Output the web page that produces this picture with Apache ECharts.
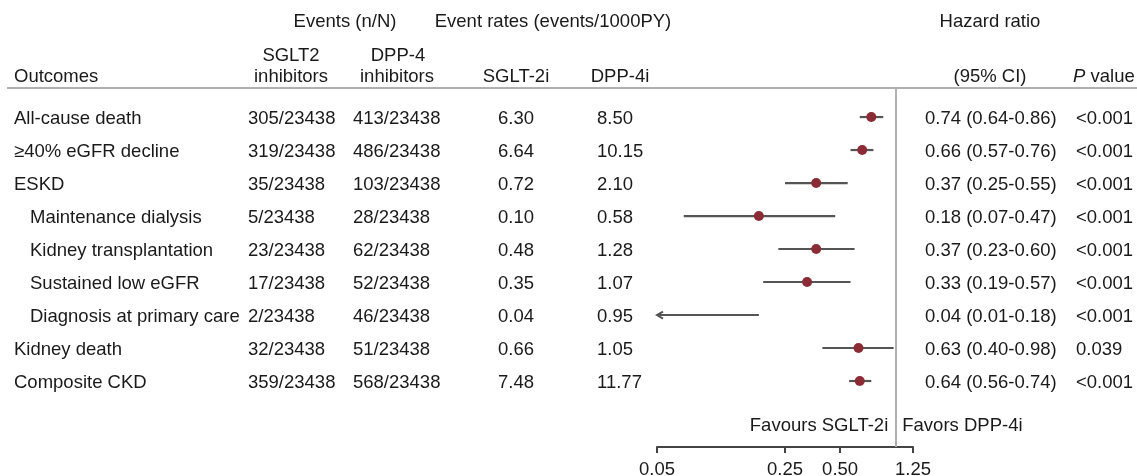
<!DOCTYPE html>
<html>
<head>
<meta charset="utf-8">
<script src="https://cdn.jsdelivr.net/npm/echarts@6/dist/echarts.min.js"></script>
<style>
html,body{margin:0;padding:0;background:#fff;}
#chart{width:1137px;height:476px;}
</style>
</head>
<body>
<div id="chart"></div>
<script>
// ---- data ----
var outcomes = ['All-cause death', '\u226540% eGFR decline', 'ESKD', 'Maintenance dialysis', 'Kidney transplantation', 'Sustained low eGFR', 'Diagnosis at primary care', 'Kidney death', 'Composite CKD'];
var indented = [false, false, false, true, true, true, true, false, false];
var eventsSglt2 = ['305/23438', '319/23438', '35/23438', '5/23438', '23/23438', '17/23438', '2/23438', '32/23438', '359/23438'];
var eventsDpp4 = ['413/23438', '486/23438', '103/23438', '28/23438', '62/23438', '52/23438', '46/23438', '51/23438', '568/23438'];
var rateSglt2 = ['6.30', '6.64', '0.72', '0.10', '0.48', '0.35', '0.04', '0.66', '7.48'];
var rateDpp4 = ['8.50', '10.15', '2.10', '0.58', '1.28', '1.07', '0.95', '1.05', '11.77'];
var hr = [0.74, 0.66, 0.37, 0.18, 0.37, 0.33, 0.04, 0.63, 0.64];
var hrLow = [0.64, 0.57, 0.25, 0.07, 0.23, 0.19, 0.01, 0.40, 0.56];
var hrHigh = [0.86, 0.76, 0.55, 0.47, 0.60, 0.57, 0.18, 0.98, 0.74];
var pValues = ['<0.001', '<0.001', '<0.001', '<0.001', '<0.001', '<0.001', '<0.001', '0.039', '<0.001'];
var xTicks = [0.05, 0.25, 0.50, 1.25];

// ---- style ----
var FONT = '"Liberation Sans", Arial, sans-serif';
var FS = 18.5;
var TXT = '#1a1a1a';
var DOT = '#8b2b36';
var LINE = '#555555';
var GRID_LINE = '#b0b0b0';
var COL = {outcome: 14, indent: 30, ev1: 248, ev2: 353, r1: 498, r2: 597, hr: 925, p: 1076};
var TEXT_DY = 2;

function fmt2(v) { return v.toFixed(2); }

var xMin = Math.log(xTicks[0]);
var xMax = Math.log(xTicks[xTicks.length - 1]);

var chart = echarts.init(document.getElementById('chart'), null, {renderer: 'canvas'});

function txt(x, y, s, align) {
  return {type: 'text', x: x, y: y + TEXT_DY, silent: true,
    style: {text: s, fill: TXT, fontSize: FS, fontFamily: FONT, align: align || 'left', verticalAlign: 'middle'}};
}

var tableData = outcomes.map(function (o, i) { return [0, i]; });
var forestData = hr.map(function (v, i) {
  return [Math.log(v), i, Math.log(hrLow[i]), Math.log(hrHigh[i])];
});

var headerY1 = 20, headerY2 = 54, headerY3 = 75;

var option = {
  animation: false,
  backgroundColor: '#fff',
  grid: [
    {left: 0, right: 0, top: 88, bottom: 29, containLabel: false, outerBoundsMode: 'none'},
    {left: 657, right: 224, top: 88, bottom: 29, containLabel: false, outerBoundsMode: 'none'}
  ],
  xAxis: [
    {gridIndex: 0, type: 'value', min: 0, max: 1137, show: false},
    {gridIndex: 1, type: 'value', min: xMin, max: xMax, position: 'bottom',
      axisLine: {show: true, onZero: false, lineStyle: {color: '#444', width: 2}},
      axisTick: {show: true, length: 6, inside: false, lineStyle: {color: '#444', width: 2}, customValues: xTicks.map(Math.log)},
      axisLabel: {show: true, margin: 13, color: TXT, fontSize: FS, fontFamily: FONT,
        customValues: xTicks.map(Math.log),
        formatter: function (v) { return fmt2(Math.exp(v)); }},
      splitLine: {show: false}
    }
  ],
  yAxis: [
    {gridIndex: 0, type: 'value', inverse: true, min: -0.88, max: 10, show: false},
    {gridIndex: 1, type: 'value', inverse: true, min: -0.88, max: 10, show: false}
  ],
  graphic: {elements: [
    {type: 'line', silent: true, shape: {x1: 7, y1: 88, x2: 1137, y2: 88}, style: {stroke: GRID_LINE, lineWidth: 2}},
    txt(345, headerY1, 'Events (n/N)', 'center'),
    txt(553, headerY1, 'Event rates (events/1000PY)', 'center'),
    txt(990, headerY1, 'Hazard ratio', 'center'),
    txt(291, headerY2, 'SGLT2', 'center'),
    txt(398, headerY2, 'DPP-4', 'center'),
    txt(COL.outcome, headerY3, 'Outcomes', 'left'),
    txt(291, headerY3, 'inhibitors', 'center'),
    txt(397, headerY3, 'inhibitors', 'center'),
    txt(516, headerY3, 'SGLT-2i', 'center'),
    txt(620, headerY3, 'DPP-4i', 'center'),
    txt(990, headerY3, '(95% CI)', 'center'),
    {type: 'text', x: 1073, y: headerY3 + TEXT_DY, silent: true,
      style: {text: '{i|P} value', fill: TXT, fontSize: FS, fontFamily: FONT, align: 'left', verticalAlign: 'middle',
        rich: {i: {fontStyle: 'italic', fontSize: FS, fontFamily: FONT, fill: TXT}}}}
  ]},
  series: [
    {
      type: 'custom', xAxisIndex: 0, yAxisIndex: 0, silent: true, clip: false,
      data: tableData,
      encode: {x: 0, y: 1},
      renderItem: function (params, api) {
        var i = params.dataIndex;
        var y = api.coord([0, i])[1];
        var px = function (c) { return api.coord([c, i])[0]; };
        return {type: 'group', children: [
          txt(px(indented[i] ? COL.indent : COL.outcome), y, outcomes[i]),
          txt(px(COL.ev1), y, eventsSglt2[i]),
          txt(px(COL.ev2), y, eventsDpp4[i]),
          txt(px(COL.r1), y, rateSglt2[i]),
          txt(px(COL.r2), y, rateDpp4[i]),
          txt(px(COL.hr), y, fmt2(hr[i]) + ' (' + fmt2(hrLow[i]) + '-' + fmt2(hrHigh[i]) + ')'),
          txt(px(COL.p), y, pValues[i])
        ]};
      }
    },
    {
      type: 'custom', xAxisIndex: 1, yAxisIndex: 1, silent: true, clip: false,
      data: forestData,
      encode: {x: 0, y: 1},
      renderItem: function (params, api) {
        var est = api.value(0), row = api.value(1), lo = api.value(2), hi = api.value(3);
        var loC = Math.max(lo, xMin), hiC = Math.min(hi, xMax);
        var pLo = api.coord([loC, row]);
        var pHi = api.coord([hiC, row]);
        var children = [
          {type: 'line', shape: {x1: pLo[0], y1: pLo[1], x2: pHi[0], y2: pHi[1]},
            style: {stroke: LINE, lineWidth: 2.2}}
        ];
        if (lo < xMin) {
          children.push({type: 'polyline', shape: {points: [[pLo[0] + 6, pLo[1] - 3.5], [pLo[0], pLo[1]], [pLo[0] + 6, pLo[1] + 3.5]]},
            style: {stroke: LINE, lineWidth: 2, fill: null}});
        }
        if (est >= xMin && est <= xMax) {
          var pE = api.coord([est, row]);
          children.push({type: 'circle', shape: {cx: pE[0], cy: pE[1], r: 5}, style: {fill: DOT}});
        }
        if (params.dataIndex === 0) {
          var ref = api.coord([0, 9.3]);
          children.push(txt(ref[0] - 7, ref[1], 'Favours SGLT-2i', 'right'));
          children.push(txt(ref[0] + 7, ref[1], 'Favors DPP-4i', 'left'));
        }
        return {type: 'group', children: children};
      },
      markLine: {
        silent: true, symbol: 'none', label: {show: false},
        lineStyle: {color: GRID_LINE, width: 2, type: 'solid'},
        data: [{xAxis: 0}]
      }
    }
  ]
};
chart.setOption(option);
</script>
</body>
</html>
